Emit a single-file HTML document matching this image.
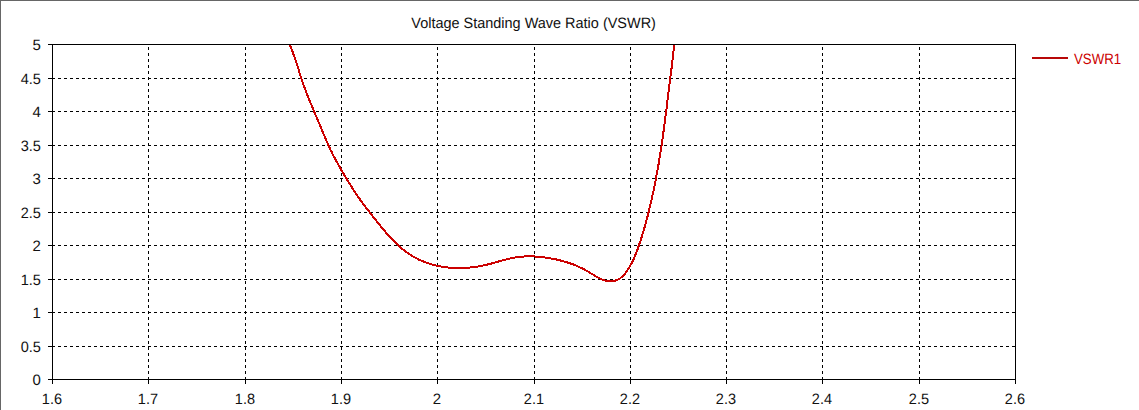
<!DOCTYPE html>
<html><head><meta charset="utf-8"><title>VSWR</title>
<style>
html,body{margin:0;padding:0;background:#fff;}
body{width:1139px;height:410px;overflow:hidden;position:relative;font-family:"Liberation Sans",sans-serif;}
svg{position:absolute;left:0;top:0;display:block;}
text{font-family:"Liberation Sans",sans-serif;font-size:15px;fill:#111;text-rendering:geometricPrecision;}
</style></head><body>
<svg width="1139" height="410" viewBox="0 0 1139 410">
<rect x="0" y="0" width="1139" height="410" fill="#ffffff"/>
<g shape-rendering="crispEdges">
<rect x="0" y="0" width="1139" height="1" fill="#666666"/>
<rect x="0" y="0" width="1" height="410" fill="#666666"/>

<g stroke="#000" stroke-width="1" stroke-dasharray="3 3" fill="none">
<line x1="52" y1="78.5" x2="1016" y2="78.5"/>
<line x1="52" y1="111.5" x2="1016" y2="111.5"/>
<line x1="52" y1="145.5" x2="1016" y2="145.5"/>
<line x1="52" y1="178.5" x2="1016" y2="178.5"/>
<line x1="52" y1="212.5" x2="1016" y2="212.5"/>
<line x1="52" y1="245.5" x2="1016" y2="245.5"/>
<line x1="52" y1="279.5" x2="1016" y2="279.5"/>
<line x1="52" y1="312.5" x2="1016" y2="312.5"/>
<line x1="52" y1="346.5" x2="1016" y2="346.5"/>
<line x1="148.5" y1="380" x2="148.5" y2="44"/>
<line x1="245.5" y1="380" x2="245.5" y2="44"/>
<line x1="341.5" y1="380" x2="341.5" y2="44"/>
<line x1="437.5" y1="380" x2="437.5" y2="44"/>
<line x1="534.5" y1="380" x2="534.5" y2="44"/>
<line x1="630.5" y1="380" x2="630.5" y2="44"/>
<line x1="726.5" y1="380" x2="726.5" y2="44"/>
<line x1="822.5" y1="380" x2="822.5" y2="44"/>
<line x1="919.5" y1="380" x2="919.5" y2="44"/>
</g>
<rect x="52.5" y="44.5" width="963" height="335" fill="none" stroke="#000" stroke-width="1"/>
<g fill="#000">
<rect x="48" y="44" width="4" height="1"/>
<rect x="48" y="78" width="4" height="1"/>
<rect x="48" y="111" width="4" height="1"/>
<rect x="48" y="145" width="4" height="1"/>
<rect x="48" y="178" width="4" height="1"/>
<rect x="48" y="212" width="4" height="1"/>
<rect x="48" y="245" width="4" height="1"/>
<rect x="48" y="279" width="4" height="1"/>
<rect x="48" y="312" width="4" height="1"/>
<rect x="48" y="346" width="4" height="1"/>
<rect x="48" y="379" width="4" height="1"/>
<rect x="52" y="380" width="1" height="4"/>
<rect x="148" y="380" width="1" height="4"/>
<rect x="245" y="380" width="1" height="4"/>
<rect x="341" y="380" width="1" height="4"/>
<rect x="437" y="380" width="1" height="4"/>
<rect x="534" y="380" width="1" height="4"/>
<rect x="630" y="380" width="1" height="4"/>
<rect x="726" y="380" width="1" height="4"/>
<rect x="822" y="380" width="1" height="4"/>
<rect x="919" y="380" width="1" height="4"/>
<rect x="1015" y="380" width="1" height="4"/>
</g></g>
<clipPath id="c"><rect x="53" y="45" width="962" height="334"/></clipPath>
<path d="M285.0,31.0 L285.6,32.7 L286.2,34.5 L286.8,36.2 L287.4,38.0 L288.0,39.7 L288.7,41.4 L289.3,43.2 L290.0,44.9 L290.6,46.6 L291.3,48.4 L291.9,50.1 L292.6,51.8 L293.2,53.5 L293.8,55.3 L294.5,57.0 L295.1,58.7 L295.7,60.5 L296.2,62.2 L296.8,64.0 L297.4,65.7 L297.9,67.5 L298.5,69.2 L299.0,71.0 L299.5,72.8 L300.1,74.5 L300.6,76.3 L301.2,78.0 L301.8,79.8 L302.4,81.5 L303.0,83.3 L303.6,85.0 L304.2,86.7 L304.9,88.5 L305.5,90.2 L306.2,91.9 L306.8,93.6 L307.5,95.3 L308.2,97.1 L308.9,98.8 L309.5,100.5 L310.2,102.2 L310.9,103.9 L311.7,105.6 L312.4,107.3 L313.1,109.0 L313.8,110.7 L314.5,112.4 L315.2,114.1 L316.0,115.8 L316.7,117.5 L317.4,119.2 L318.1,120.9 L318.8,122.6 L319.6,124.3 L320.3,126.0 L321.0,127.7 L321.7,129.4 L322.4,131.1 L323.1,132.8 L323.8,134.5 L324.5,136.2 L325.2,137.9 L325.9,139.6 L326.6,141.3 L327.4,143.0 L328.1,144.7 L328.9,146.4 L329.7,148.0 L330.4,149.7 L331.3,151.3 L332.1,153.0 L332.9,154.6 L333.8,156.3 L334.6,157.9 L335.5,159.5 L336.4,161.1 L337.3,162.8 L338.2,164.4 L339.1,166.0 L340.0,167.6 L340.9,169.2 L341.8,170.8 L342.8,172.4 L343.7,174.0 L344.6,175.6 L345.6,177.1 L346.5,178.7 L347.5,180.3 L348.5,181.9 L349.4,183.4 L350.4,185.0 L351.4,186.6 L352.4,188.1 L353.4,189.7 L354.4,191.2 L355.4,192.7 L356.4,194.3 L357.4,195.8 L358.5,197.3 L359.5,198.8 L360.6,200.3 L361.7,201.8 L362.8,203.3 L363.9,204.8 L365.0,206.3 L366.1,207.7 L367.2,209.2 L368.4,210.7 L369.5,212.1 L370.6,213.6 L371.8,215.0 L372.9,216.5 L374.0,218.0 L375.2,219.4 L376.3,220.8 L377.5,222.3 L378.6,223.7 L379.8,225.2 L380.9,226.6 L382.1,228.0 L383.3,229.4 L384.5,230.8 L385.7,232.2 L386.9,233.6 L388.1,234.9 L389.3,236.3 L390.6,237.7 L391.9,239.0 L393.1,240.3 L394.4,241.6 L395.8,242.9 L397.1,244.2 L398.4,245.5 L399.8,246.7 L401.2,248.0 L402.6,249.1 L404.1,250.3 L405.5,251.4 L407.0,252.6 L408.5,253.6 L410.0,254.6 L411.6,255.6 L413.2,256.6 L414.8,257.5 L416.4,258.3 L418.0,259.2 L419.7,260.0 L421.4,260.7 L423.1,261.4 L424.8,262.1 L426.5,262.7 L428.3,263.3 L430.0,263.9 L431.8,264.4 L433.6,264.9 L435.3,265.4 L437.1,265.8 L439.0,266.1 L440.8,266.5 L442.6,266.8 L444.4,267.1 L446.2,267.3 L448.1,267.5 L449.9,267.7 L451.8,267.8 L453.6,267.9 L455.4,268.0 L457.3,268.1 L459.1,268.1 L461.0,268.1 L462.8,268.0 L464.6,267.9 L466.5,267.8 L468.3,267.7 L470.1,267.5 L472.0,267.3 L473.8,267.1 L475.6,266.8 L477.5,266.6 L479.3,266.3 L481.1,265.9 L482.9,265.6 L484.7,265.2 L486.5,264.8 L488.3,264.3 L490.1,263.9 L491.9,263.4 L493.7,262.9 L495.5,262.4 L497.2,261.9 L499.0,261.4 L500.8,260.9 L502.6,260.4 L504.4,259.9 L506.1,259.4 L507.9,259.0 L509.7,258.6 L511.5,258.2 L513.3,257.8 L515.1,257.5 L516.9,257.2 L518.7,257.0 L520.6,256.8 L522.4,256.6 L524.2,256.5 L526.1,256.4 L527.9,256.3 L529.8,256.3 L531.6,256.3 L533.4,256.4 L535.3,256.5 L537.1,256.6 L539.0,256.8 L540.8,256.9 L542.7,257.1 L544.5,257.4 L546.4,257.7 L548.2,257.9 L550.0,258.3 L551.8,258.6 L553.6,258.9 L555.5,259.3 L557.3,259.7 L559.0,260.2 L560.8,260.6 L562.6,261.1 L564.4,261.6 L566.1,262.1 L567.9,262.6 L569.6,263.2 L571.3,263.8 L573.1,264.4 L574.8,265.1 L576.5,265.8 L578.1,266.5 L579.8,267.3 L581.5,268.0 L583.1,268.9 L584.8,269.7 L586.4,270.6 L588.0,271.5 L589.6,272.5 L591.2,273.5 L592.8,274.4 L594.4,275.4 L596.0,276.4 L597.7,277.3 L599.3,278.2 L601.0,279.0 L602.7,279.7 L604.4,280.3 L606.2,280.7 L608.0,281.0 L609.8,281.2 L611.6,281.2 L613.5,281.0 L615.2,280.6 L616.9,280.1 L618.5,279.3 L620.0,278.4 L621.4,277.3 L622.8,276.1 L624.1,274.7 L625.3,273.3 L626.4,271.8 L627.5,270.2 L628.5,268.6 L629.5,266.9 L630.4,265.3 L631.3,263.7 L632.2,262.1 L633.0,260.4 L633.8,258.8 L634.5,257.1 L635.2,255.4 L635.9,253.7 L636.6,252.0 L637.2,250.3 L637.8,248.6 L638.4,246.8 L639.0,245.1 L639.6,243.4 L640.2,241.6 L640.8,239.9 L641.3,238.1 L641.9,236.4 L642.4,234.6 L642.9,232.8 L643.5,231.1 L644.0,229.3 L644.5,227.5 L645.0,225.8 L645.5,224.0 L646.0,222.2 L646.5,220.4 L646.9,218.6 L647.4,216.8 L647.9,215.1 L648.3,213.3 L648.8,211.5 L649.2,209.7 L649.6,207.9 L650.1,206.1 L650.5,204.3 L650.9,202.5 L651.3,200.7 L651.7,198.9 L652.1,197.1 L652.5,195.3 L652.9,193.5 L653.3,191.7 L653.7,189.9 L654.0,188.1 L654.4,186.3 L654.8,184.5 L655.1,182.7 L655.5,180.9 L655.8,179.0 L656.2,177.2 L656.5,175.4 L656.9,173.6 L657.2,171.8 L657.5,170.0 L657.8,168.2 L658.2,166.3 L658.5,164.5 L658.8,162.7 L659.1,160.9 L659.4,159.1 L659.7,157.2 L660.0,155.4 L660.3,153.6 L660.6,151.8 L660.8,150.0 L661.1,148.1 L661.4,146.3 L661.7,144.5 L661.9,142.7 L662.2,140.8 L662.5,139.0 L662.7,137.2 L663.0,135.4 L663.2,133.5 L663.5,131.7 L663.7,129.9 L664.0,128.1 L664.2,126.2 L664.5,124.4 L664.7,122.6 L665.0,120.7 L665.2,118.9 L665.4,117.1 L665.7,115.3 L665.9,113.4 L666.1,111.6 L666.4,109.8 L666.6,107.9 L666.8,106.1 L667.0,104.3 L667.3,102.5 L667.5,100.6 L667.7,98.8 L667.9,97.0 L668.2,95.1 L668.4,93.3 L668.6,91.5 L668.8,89.6 L669.1,87.8 L669.3,86.0 L669.5,84.1 L669.8,82.3 L670.0,80.5 L670.2,78.7 L670.4,76.8 L670.7,75.0 L670.9,73.2 L671.1,71.3 L671.4,69.5 L671.6,67.7 L671.8,65.8 L672.0,64.0 L672.2,62.2 L672.5,60.3 L672.7,58.5 L672.9,56.7 L673.1,54.8 L673.3,53.0 L673.5,51.2 L673.7,49.4 L673.9,47.5 L674.1,45.7 L674.3,43.8 L674.5,42.0 L674.7,40.2 L674.9,38.3 L675.1,36.5 L675.2,34.7 L675.4,32.8 L675.6,31.0" fill="none" stroke="#cc0000" stroke-width="2" stroke-linejoin="round" shape-rendering="crispEdges" clip-path="url(#c)"/>
<rect x="1032" y="57" width="36" height="2" fill="#b80808" shape-rendering="crispEdges"/>
<text x="1074" y="63.75" style="fill:#cc0000" textLength="47.2" lengthAdjust="spacingAndGlyphs">VSWR1</text>
<text x="411.3" y="28.4" textLength="244.6" lengthAdjust="spacingAndGlyphs">Voltage Standing Wave Ratio (VSWR)</text>
<text x="40.9" y="49.8" text-anchor="end">5</text>
<text x="40.9" y="83.8" text-anchor="end" textLength="20.2" lengthAdjust="spacingAndGlyphs">4.5</text>
<text x="40.9" y="116.8" text-anchor="end">4</text>
<text x="40.9" y="150.8" text-anchor="end" textLength="20.2" lengthAdjust="spacingAndGlyphs">3.5</text>
<text x="40.9" y="183.8" text-anchor="end">3</text>
<text x="40.9" y="217.8" text-anchor="end" textLength="20.2" lengthAdjust="spacingAndGlyphs">2.5</text>
<text x="40.9" y="250.8" text-anchor="end">2</text>
<text x="40.9" y="284.8" text-anchor="end" textLength="20.2" lengthAdjust="spacingAndGlyphs">1.5</text>
<text x="40.9" y="317.8" text-anchor="end">1</text>
<text x="40.9" y="351.8" text-anchor="end" textLength="20.2" lengthAdjust="spacingAndGlyphs">0.5</text>
<text x="40.9" y="384.8" text-anchor="end">0</text>
<text x="51.9" y="404" text-anchor="middle" textLength="20.2" lengthAdjust="spacingAndGlyphs">1.6</text>
<text x="147.9" y="404" text-anchor="middle" textLength="20.2" lengthAdjust="spacingAndGlyphs">1.7</text>
<text x="244.9" y="404" text-anchor="middle" textLength="20.2" lengthAdjust="spacingAndGlyphs">1.8</text>
<text x="340.9" y="404" text-anchor="middle" textLength="20.2" lengthAdjust="spacingAndGlyphs">1.9</text>
<text x="436.9" y="404" text-anchor="middle">2</text>
<text x="533.9" y="404" text-anchor="middle" textLength="20.2" lengthAdjust="spacingAndGlyphs">2.1</text>
<text x="629.9" y="404" text-anchor="middle" textLength="20.2" lengthAdjust="spacingAndGlyphs">2.2</text>
<text x="725.9" y="404" text-anchor="middle" textLength="20.2" lengthAdjust="spacingAndGlyphs">2.3</text>
<text x="821.9" y="404" text-anchor="middle" textLength="20.2" lengthAdjust="spacingAndGlyphs">2.4</text>
<text x="918.9" y="404" text-anchor="middle" textLength="20.2" lengthAdjust="spacingAndGlyphs">2.5</text>
<text x="1014.9" y="404" text-anchor="middle" textLength="20.2" lengthAdjust="spacingAndGlyphs">2.6</text>
</svg></body></html>
